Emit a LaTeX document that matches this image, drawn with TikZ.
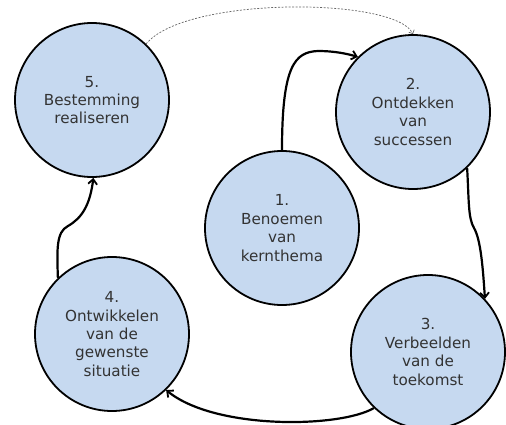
\documentclass[tikz,border=0pt]{standalone}
\usepackage{fontspec}
\setmainfont{DejaVu Sans}
\usetikzlibrary{arrows.meta}
\definecolor{circfill}{HTML}{C6D9F0}
\definecolor{txtcol}{HTML}{333333}
\tikzset{
  stage/.style={circle, draw=black, line width=1.8pt, fill=circfill, minimum size=154pt, inner sep=0pt,
    align=center, text=txtcol, font=\fontsize{15.2}{18.4}\selectfont},
  flow/.style={line width=2.2pt, -{Straight Barb[length=5pt,width=9pt,line width=1.8pt]}},
  back/.style={draw=black!60, line width=0.7pt, dash pattern=on 2pt off 1.5pt, -{Straight Barb[length=3pt,width=6pt,line width=0.7pt]}}
}
\begin{document}
\begin{tikzpicture}[x=1pt,y=-1pt]
\useasboundingbox (0,0) rectangle (506,425);
\node[stage] (c5) at (92,100) {5.\\Bestemming\\realiseren};
\node[stage] (c2) at (413,112) {2.\\Ontdekken\\van\\successen};
\node[stage] (c1) at (282,228) {1.\\Benoemen\\van\\kernthema};
\node[stage] (c4) at (112,334) {4.\\Ontwikkelen\\van de\\gewenste\\situatie};
\node[stage] (c3) at (428,352) {3.\\Verbeelden\\van de\\toekomst};
\draw[flow] (c1.north) .. controls (282,65) and (295,52) .. (318,51) .. controls (335,51) and (348,54) .. (c2.135);
\draw[flow] (c2.-46) .. controls (469,200) and (468,218) .. (474,228) .. controls (481,240) and (483,270) .. (c3.43);
\draw[flow] (c3.-134) .. controls (340,428) and (215,430) .. (c4.-46);
\draw[flow] (c4.134) .. controls (57,250) and (56,232) .. (68,226) .. controls (82,218) and (90,205) .. (c5.-89);
\draw[back] (c5.46) .. controls (185,-4) and (395,-3) .. (c2.north);
\end{tikzpicture}
\end{document}
